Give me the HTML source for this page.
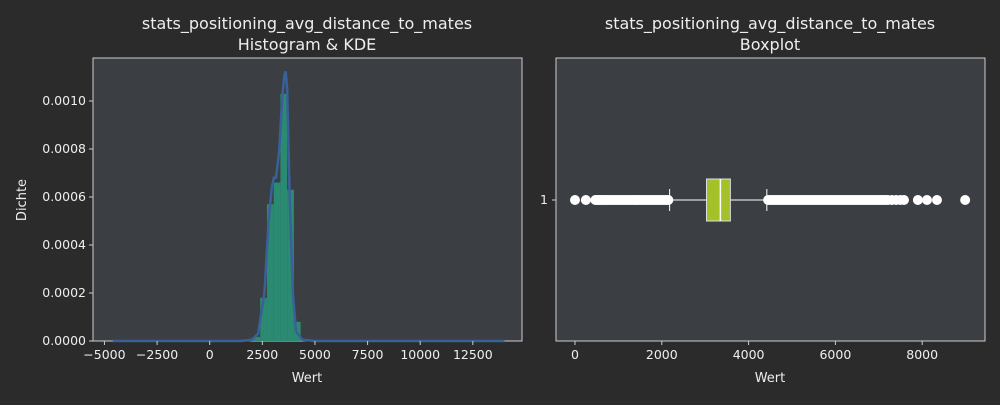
<!DOCTYPE html>
<html><head><meta charset="utf-8"><style>
body{margin:0;background:#2b2b2b;}
svg text{font-family:"DejaVu Sans","Liberation Sans",sans-serif;fill:#eeeeee;}
</style></head><body>
<svg id="c" width="1000" height="400">
<rect width="1000" height="400" fill="#2b2b2b"/>
<g id="L"></g><g id="R"></g>
</svg>
<script>
const histEdges=[1760,2080,2400,2720,3040,3360,3680,4000,4320];
const histDens=[0.000003,0.000017,0.00018,0.00057,0.00066,0.00103,0.00063,0.00008];
const kdeX=[-4600,1500,2000,2300,2600,2800,2950,3050,3150,3300,3450,3550,3610,3680,3800,3950,4100,4400,5000,14000];
const kdeY=[0,0,0.000005,0.00003,0.0002,0.0005,0.00064,0.00068,0.00068,0.00079,0.00102,0.00111,0.001123,0.00105,0.0006,0.0002,0.00004,0.000005,0,0];
const xTicksL=[-5000,-2500,0,2500,5000,7500,10000,12500];
const yTicksL=[0,0.0002,0.0004,0.0006,0.0008,0.0010];
const boxStats=[2180,3030,3350,3580,4420];
const outliers=[0,250,470,500,540,580,620,660,700,750,800,850,900,950,1000,1050,1100,1150,1200,1250,1300,1350,1400,1450,1500,1550,1600,1650,1700,1750,1800,1850,1900,1950,2000,2050,2100,2150,
4450,4500,4550,4600,4650,4700,4750,4800,4850,4900,4950,5000,5050,5100,5150,5200,5250,5300,5350,5400,5450,5500,5550,5600,5650,5700,5750,5800,5850,5900,5950,6000,6050,6100,6150,6200,6250,6300,6350,6400,6450,6500,6550,6600,6650,6700,6750,6800,6850,6900,6950,7000,7050,7100,7150,7200,7300,7400,7500,7580,7900,8110,8340,8990];
const xTicksR=[0,2000,4000,6000,8000];
const NS="http://www.w3.org/2000/svg";
function mk(p,t,a,txt){const e=document.createElementNS(NS,t);for(const k in a)e.setAttribute(k,a[k]);if(txt!==undefined)e.textContent=txt;p.appendChild(e);return e;}
const L=document.getElementById('L'),R=document.getElementById('R');
const lx=v=>209.7+v*0.02105, ly=v=>341-v*240000;
let e=mk(L,'rect',{x:93,y:58,width:429,height:283,fill:'#3b3f43',stroke:'#cccccc','stroke-width':1});

for(let i=0;i<histDens.length;i++){
 e=mk(L,'rect',{x:lx(histEdges[i]),y:ly(histDens[i]),width:lx(histEdges[i+1])-lx(histEdges[i]),height:341-ly(histDens[i]),fill:'#2a8a72'});
 
}
e=mk(L,'polyline',{points:kdeX.map((v,i)=>lx(v)+','+ly(kdeY[i])).join(' '),fill:'none',stroke:'#3a6098','stroke-width':2.5});

xTicksL.forEach(v=>{mk(L,'line',{x1:lx(v),x2:lx(v),y1:341,y2:345,stroke:'#ccc'});
 e=mk(L,'text',{x:lx(v),y:359,'text-anchor':'middle','font-size':12.5},v<0?'\u2212'+(-v):String(v));
 });
yTicksL.forEach(v=>{mk(L,'line',{x1:89,x2:93,y1:ly(v),y2:ly(v),stroke:'#ccc'});
 e=mk(L,'text',{x:86,y:ly(v)+4,'text-anchor':'end','font-size':12.5},v.toFixed(4));
 });
e=mk(L,'text',{x:307,y:382,'text-anchor':'middle','font-size':13},'Wert');
e=mk(L,'text',{x:26,y:200,'text-anchor':'middle','font-size':13,transform:'rotate(-90 26 200)'},'Dichte');
e=mk(L,'text',{x:307,y:29,'text-anchor':'middle','font-size':16},'stats_positioning_avg_distance_to_mates');
e=mk(L,'text',{x:307,y:50,'text-anchor':'middle','font-size':16},'Histogram & KDE');
const rx=v=>575+v*0.0434, cy=200;
e=mk(R,'rect',{x:556,y:58,width:429,height:283,fill:'#3b3f43',stroke:'#cccccc','stroke-width':1});

mk(R,'line',{x1:rx(boxStats[0]),x2:rx(boxStats[1]),y1:cy,y2:cy,stroke:'#fff'});
mk(R,'line',{x1:rx(boxStats[3]),x2:rx(boxStats[4]),y1:cy,y2:cy,stroke:'#fff'});
[0,4].forEach(i=>{e=mk(R,'line',{x1:rx(boxStats[i]),x2:rx(boxStats[i]),y1:189,y2:211,stroke:'#fff'});});
e=mk(R,'rect',{x:rx(boxStats[1]),y:179,width:rx(boxStats[3])-rx(boxStats[1]),height:42,fill:'#a4c12a',stroke:'#dddddd'});

e=mk(R,'line',{x1:rx(boxStats[2]),x2:rx(boxStats[2]),y1:179,y2:221,stroke:'#fff','stroke-width':1.5});

outliers.forEach(v=>{e=mk(R,'circle',{cx:rx(v),cy:cy,r:5,fill:'#fff'});});
xTicksR.forEach(v=>{mk(R,'line',{x1:rx(v),x2:rx(v),y1:341,y2:345,stroke:'#ccc'});
 e=mk(R,'text',{x:rx(v),y:359,'text-anchor':'middle','font-size':12.5},String(v));
 });
mk(R,'line',{x1:552,x2:556,y1:cy,y2:cy,stroke:'#ccc'});
e=mk(R,'text',{x:548,y:cy+4,'text-anchor':'end','font-size':12.5},'1');
e=mk(R,'text',{x:770,y:382,'text-anchor':'middle','font-size':13},'Wert');
e=mk(R,'text',{x:770,y:29,'text-anchor':'middle','font-size':16},'stats_positioning_avg_distance_to_mates');
e=mk(R,'text',{x:770,y:50,'text-anchor':'middle','font-size':16},'Boxplot');
</script>
</body></html>
